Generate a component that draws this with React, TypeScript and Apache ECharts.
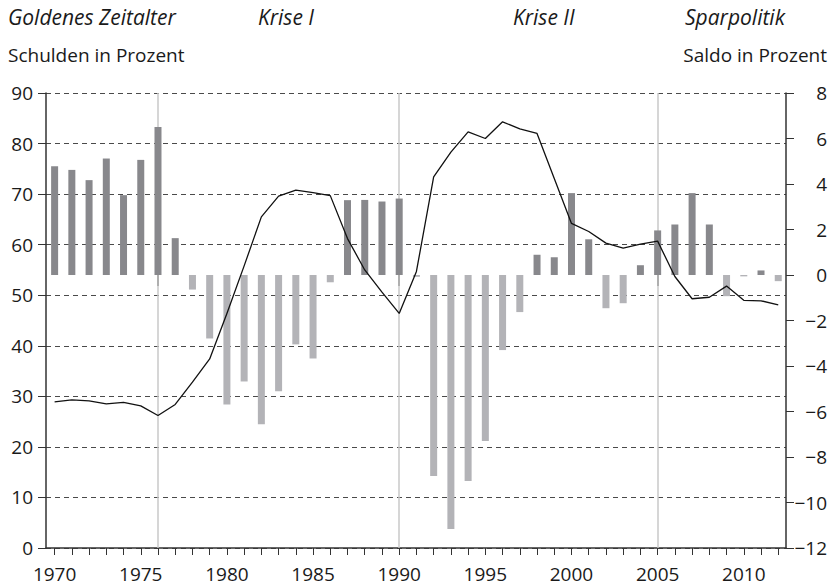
import React, { useEffect, useRef } from 'react';
import * as echarts from 'echarts';

const years = [
  1970, 1971, 1972, 1973, 1974, 1975, 1976, 1977, 1978, 1979,
  1980, 1981, 1982, 1983, 1984, 1985, 1986, 1987, 1988, 1989,
  1990, 1991, 1992, 1993, 1994, 1995, 1996, 1997, 1998, 1999,
  2000, 2001, 2002, 2003, 2004, 2005, 2006, 2007, 2008, 2009,
  2010, 2011, 2012,
];

// Schulden in Prozent (left axis)
const debt = [
  28.9, 29.3, 29.1, 28.5, 28.8, 28.1, 26.2, 28.4, 32.8, 37.4,
  46.4, 55.8, 65.5, 69.6, 70.8, 70.3, 69.7, 61.2, 55.0, 50.6,
  46.4, 54.7, 73.4, 78.3, 82.3, 81.0, 84.3, 82.9, 82.0, 73.1,
  64.2, 62.6, 60.3, 59.3, 60.1, 60.7, 53.7, 49.3, 49.6, 51.8,
  49.0, 48.9, 48.1,
];

// Saldo in Prozent (right axis)
const balance = [
  4.78, 4.62, 4.17, 5.12, 3.51, 5.06, 6.51, 1.62, -0.64, -2.79,
  -5.69, -4.68, -6.56, -5.11, -3.05, -3.67, -0.32, 3.29, 3.3, 3.23,
  3.36, -0.08, -8.84, -11.16, -9.06, -7.3, -3.3, -1.63, 0.89, 0.78,
  3.6, 1.57, -1.46, -1.24, 0.43, 1.96, 2.22, 3.6, 2.22, -0.93,
  -0.06, 0.2, -0.27,
];

const yearLabels = [1970, 1975, 1980, 1985, 1990, 1995, 2000, 2005, 2010];
const phaseYears = [1976, 1990, 2005];
const phaseLabels = ['Goldenes Zeitalter', 'Krise I', 'Krise II', 'Sparpolitik'];
const leftTitle = 'Schulden in Prozent';
const rightTitle = 'Saldo in Prozent';

const FONT = '"Open Sans", "DejaVu Sans", sans-serif';
const FS = 19;
const FS_TITLE = 19;
const FS_IT = 21;
const TXT = '#1a1a1a';
const AX = '#333333';

export default function App() {
  const ref = useRef<HTMLDivElement>(null);
  useEffect(() => {
    if (!ref.current) return;
    const chart = echarts.init(ref.current, null, { renderer: 'svg' });
    const phaseX = [8, 258, 513, 685];
    chart.setOption({
      animation: false,
      textStyle: { fontFamily: FONT },
      grid: { left: 46, right: 45, top: 93, bottom: 39 },
      graphic: [
        ...phaseLabels.map((t, i) => ({
          type: 'text',
          left: phaseX[i],
          top: 6,
          style: { text: t, fontFamily: FONT, fontSize: FS_IT, fontStyle: 'italic', fill: TXT },
        })),
        {
          type: 'text', left: 8, top: 45,
          style: { text: leftTitle, fontFamily: FONT, fontSize: FS_TITLE, fill: TXT },
        },
        {
          type: 'text', right: 4, top: 45,
          style: { text: rightTitle, fontFamily: FONT, fontSize: FS_TITLE, fill: TXT },
        },
      ],
      xAxis: [
        {
          type: 'value',
          min: 1969.5,
          max: 2012.45,
          axisLine: { show: true, lineStyle: { color: AX, width: 1.5 } },
          axisTick: {
            show: true, length: 7, lineStyle: { color: AX, width: 1 },
            customValues: years,
          },
          axisLabel: {
            show: true, customValues: yearLabels, margin: 16,
            fontSize: FS, color: TXT, fontFamily: FONT,
            formatter: (v: number) => String(v),
          },
          splitLine: { show: false },
        },
        {
          type: 'value',
          position: 'bottom',
          min: 1969.5,
          max: 2012.45,
          axisLine: { show: false },
          axisTick: {
            show: true, length: 11, lineStyle: { color: AX, width: 1.5 },
            customValues: phaseYears,
          },
          axisLabel: { show: false },
          splitLine: { show: false },
        },
      ],
      yAxis: [
        {
          type: 'value',
          min: 0, max: 90, interval: 10,
          position: 'left',
          axisLine: { show: true, lineStyle: { color: AX, width: 1.5 } },
          axisTick: { show: true, length: 8, lineStyle: { color: AX, width: 1 } },
          axisLabel: { margin: 13, fontSize: FS, color: TXT, fontFamily: FONT },
          splitLine: { show: true, lineStyle: { color: '#4a4a4a', type: [5, 4], width: 1 } },
        },
        {
          type: 'value',
          min: -12, max: 8, interval: 2,
          position: 'right',
          axisLine: { show: true, lineStyle: { color: AX, width: 1.5 } },
          axisTick: { show: true, length: 8, lineStyle: { color: AX, width: 1 } },
          axisLabel: {
            margin: 41, align: 'right', fontSize: FS, color: TXT, fontFamily: FONT,
            formatter: (v: number) => (v < 0 ? '\u2212' + Math.abs(v) : String(v)),
          },
          splitLine: { show: false },
        },
      ],
      series: [
        {
          type: 'bar',
          xAxisIndex: 0,
          yAxisIndex: 1,
          barWidth: 7,
          data: years.map((y, i) => ({
            value: [y, balance[i]],
            itemStyle: { color: balance[i] >= 0 ? '#88888c' : '#b3b3b7' },
          })),
          markLine: {
            silent: true,
            symbol: 'none',
            label: { show: false },
            lineStyle: { color: '#c8c8c8', type: 'solid', width: 1.5 },
            data: phaseYears.map((y) => ({ xAxis: y })),
            z: 1,
          },
          z: 2,
        },
        {
          type: 'line',
          xAxisIndex: 0,
          yAxisIndex: 0,
          symbol: 'none',
          lineStyle: { color: '#111111', width: 1.3 },
          data: years.map((y, i) => [y, debt[i]]),
          z: 3,
        },
      ],
    });
    return () => chart.dispose();
  }, []);
  return (
    <div
      ref={ref}
      style={{ position: 'absolute', left: 0, top: 0, width: 831, height: 587, background: '#fff' }}
    />
  );
}
